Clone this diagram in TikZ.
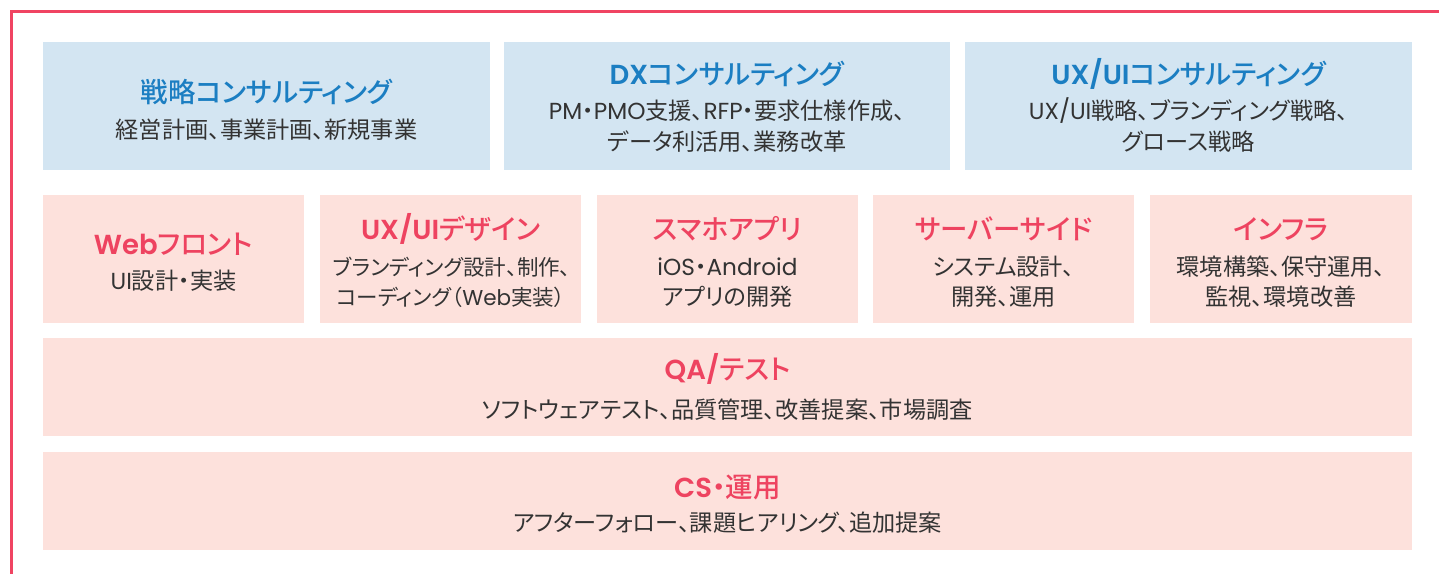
\documentclass[tikz,border=0pt]{standalone}
\usepackage{fontspec}
\setmainfont{Noto Sans CJK JP}[RawFeature=+palt, BoldFont={Noto Sans CJK JP Medium}]
\newfontfamily\lat{Poppins}[BoldFont={Poppins SemiBold}]
\definecolor{bluebg}{HTML}{D3E5F2}
\definecolor{pinkbg}{HTML}{FDE1DC}
\definecolor{bluetitle}{HTML}{1B7EC2}
\definecolor{redtitle}{HTML}{EE4360}
\definecolor{frame}{HTML}{F04462}
\definecolor{bodytext}{HTML}{333333}
\tikzset{
  bluebox/.style={fill=bluebg, draw=none, inner sep=0pt},
  pinkbox/.style={fill=pinkbg, draw=none, inner sep=0pt},
  ttl/.style={font=\fontsize{27.5}{32}\selectfont\bfseries, inner sep=0pt},
  bttl/.style={ttl, text=bluetitle},
  rttl/.style={ttl, text=redtitle},
  body/.style={font=\fontsize{23.2}{27}\selectfont, text=bodytext, inner sep=0pt},
  smallbody/.style={body, font=\fontsize{21.5}{26}\selectfont},
}
\begin{document}
\begin{tikzpicture}[x=1pt,y=-1pt]
\useasboundingbox (0,0) rectangle (1439,574);
\coordinate (fr1) at (1439,11.5);
\coordinate (fr2) at (11.5,11.5);
\coordinate (fr3) at (11.5,574);
\draw[frame, line width=3pt] (fr1) -- (fr2) -- (fr3);

% row 1
\node[bluebox, minimum width=447, minimum height=128] (b1) at (266.5,106) {};
\node[bluebox, minimum width=446, minimum height=128] (b2) at (727,106) {};
\node[bluebox, minimum width=447, minimum height=128] (b3) at (1188.5,106) {};
\node[bttl] (b1t) at (266.5,92) {戦略コンサルティング};
\node[body] (b1a) at (266.5,130) {経営計画、事業計画、新規事業};
\node[bttl] (b2t) at (727,74) {{\lat DX}コンサルティング};
\node[body] (b2a) at (727,111) {{\lat PM}・{\lat PMO}支援、{\lat RFP}・要求仕様作成、};
\node[body] (b2b) at (727,142) {データ利活用、業務改革};
\node[bttl] (b3t) at (1188.5,74) {{\lat UX/UI}コンサルティング};
\node[body] (b3a) at (1188.5,111) {{\lat UX/UI}戦略、ブランディング戦略、};
\node[body] (b3b) at (1188.5,142) {グロース戦略};

% row 2
\node[pinkbox, minimum width=261, minimum height=128] (p1) at (173.5,259) {};
\node[pinkbox, minimum width=261, minimum height=128] (p2) at (450.5,259) {};
\node[pinkbox, minimum width=261, minimum height=128] (p3) at (727.5,259) {};
\node[pinkbox, minimum width=261, minimum height=128] (p4) at (1003.5,259) {};
\node[pinkbox, minimum width=262, minimum height=128] (p5) at (1281,259) {};
\node[rttl] (p1t) at (173.5,244) {{\lat Web}フロント};
\node[body] (p1a) at (173.5,281) {{\lat UI}設計・実装};
\node[rttl] (p2t) at (450.5,229) {{\lat UX/UI}デザイン};
\node[smallbody] (p2a) at (452,267) {ブランディング設計、制作、};
\node[smallbody] (p2b) at (450.5,297) {コーディング（{\lat Web}実装）};
\node[rttl] (p3t) at (727.5,229) {スマホアプリ};
\node[body] (p3a) at (727.5,267) {{\lat iOS}・{\lat Android}};
\node[body] (p3b) at (727.5,297) {アプリの開発};
\node[rttl] (p4t) at (1003.5,229) {サーバーサイド};
\node[body] (p4a) at (1003.5,267) {システム設計、};
\node[body] (p4b) at (1003.5,297) {開発、運用};
\node[rttl] (p5t) at (1281,229) {インフラ};
\node[body] (p5a) at (1281,267) {環境構築、保守運用、};
\node[body] (p5b) at (1281,297) {監視、環境改善};

% row 3
\node[pinkbox, minimum width=1369, minimum height=98] (q) at (727.5,387) {};
\node[rttl] (qt) at (727.5,369) {{\lat QA/}テスト};
\node[body] (qa) at (727.5,410) {ソフトウェアテスト、品質管理、改善提案、市場調査};

% row 4
\node[pinkbox, minimum width=1369, minimum height=98] (c) at (727.5,501) {};
\node[rttl] (ct) at (727.5,487) {{\lat CS}・運用};
\node[body] (ca) at (727.5,523) {アフターフォロー、課題ヒアリング、追加提案};
\end{tikzpicture}
\end{document}
